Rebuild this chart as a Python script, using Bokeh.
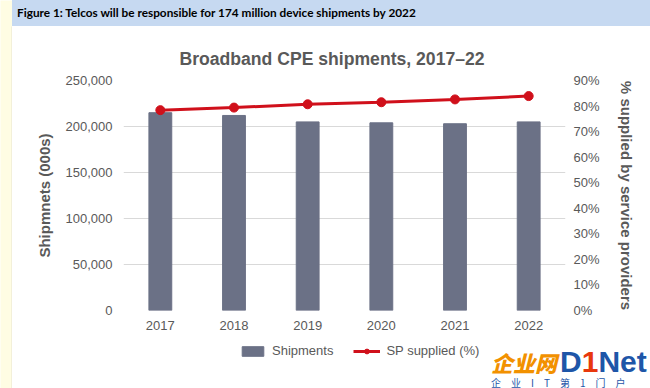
from bokeh.plotting import figure
from bokeh.models import (ColumnDataSource, LinearAxis, Range1d, FactorRange, Legend,
                          LegendItem, NumeralTickFormatter, SingleIntervalTicker, Div)
from bokeh.layouts import column, row
from bokeh.embed import file_html
from bokeh.resources import INLINE

years = ["2017", "2018", "2019", "2020", "2021", "2022"]
shipments = [215000, 212000, 205000, 204000, 203000, 205000]
sp_supplied = [0.784, 0.794, 0.807, 0.815, 0.826, 0.839]

fig_title = "Figure 1: Telcos will be responsible for 174 million device shipments by 2022"
chart_title = "Broadband CPE shipments, 2017\u201322"
left_label = "Shipmnets (000s)"
right_label = "% supplied by service providers"
legend_labels = ["Shipments", "SP supplied (%)"]

GRAY_TXT = "#595959"
FONT = "Liberation Sans"
BAR = "#6B7186"
RED = "#D0101B"

def bare(fig):
    fig.axis.visible = False
    fig.grid.visible = False
    fig.outline_line_color = None
    return fig

# ---- yellow side strip
strip = bare(figure(width=12, height=388, x_range=(0, 12), y_range=(0, 388),
                    output_backend="svg", toolbar_location=None, min_border=0,
                    background_fill_color="#FFFDE3", border_fill_color="#FFFDE3"))
strip.segment(x0=[11.5], y0=[0], x1=[11.5], y1=[362], line_color="#E6E3CF", line_width=1)

# ---- header band
band = Div(text=fig_title, width=638, height=26, margin=0,
           styles={"background-color": "#C6D9F1", "font-family": "Lato", "font-weight": "bold",
                   "font-size": "11.8px", "line-height": "26px", "padding-left": "5px",
                   "box-sizing": "border-box", "color": "black", "white-space": "nowrap"})

# ---- main chart
src = ColumnDataSource(dict(year=years, ship=shipments, sp=sp_supplied))

p = figure(frame_width=442, frame_height=230, x_range=FactorRange(*years, range_padding=0),
           y_range=Range1d(0, 250000), output_backend="svg", toolbar_location=None,
           min_border_left=111, min_border_right=73, min_border_top=54, min_border_bottom=28)
p.outline_line_color = None
p.background_fill_color = "white"
p.border_fill_color = "white"

p.extra_y_ranges = {"pct": Range1d(0, 0.9)}

bars = p.vbar(x="year", top="ship", width=0.31, source=src, color=BAR)
line = p.line(x="year", y="sp", source=src, y_range_name="pct", color=RED, line_width=3)
pts = p.scatter(x="year", y="sp", source=src, y_range_name="pct", color=RED, size=9)

p.yaxis.ticker = SingleIntervalTicker(interval=50000)
p.yaxis.formatter = NumeralTickFormatter(format="0,0")
p.yaxis.axis_label = left_label

ax_r = LinearAxis(y_range_name="pct", ticker=SingleIntervalTicker(interval=0.1),
                  formatter=NumeralTickFormatter(format="0%"), axis_label=right_label)
p.add_layout(ax_r, "right")

for ax in [p.yaxis[0], ax_r, p.xaxis[0]]:
    ax.axis_line_color = None
    ax.major_tick_line_color = None
    ax.minor_tick_line_color = None
    ax.major_tick_out = 0
    ax.major_tick_in = 0
    ax.major_label_text_font = FONT
    ax.major_label_text_font_size = "13px"
    ax.major_label_text_color = GRAY_TXT
    ax.axis_label_text_font = FONT
    ax.axis_label_text_font_size = "15px"
    ax.axis_label_text_font_style = "bold"
    ax.axis_label_text_color = GRAY_TXT
p.yaxis[0].major_label_standoff = 7
ax_r.major_label_standoff = 4
p.yaxis[0].axis_label_standoff = 10
ax_r.axis_label_standoff = 15
p.xaxis.major_label_standoff = 10

p.xgrid.grid_line_color = None
p.ygrid.grid_line_color = "#D9D9D9"

p.title.text = chart_title
p.title.align = "left"
p.title.offset = 56
p.title.text_font = FONT
p.title.text_font_size = "17.6px"
p.title.text_font_style = "bold"
p.title.text_color = GRAY_TXT
p.title.standoff = 24

# ---- legend row (proxy renderers, hidden; legend shows their styles)
lf = bare(figure(width=478, height=50, x_range=(0, 1), y_range=(0, 1), output_backend="svg",
                 toolbar_location=None, min_border=0, border_fill_color="white"))
lb = lf.vbar(x=[0], top=[0], width=0.3, color=BAR, visible=False)
ll = lf.line(x=[0, 0], y=[0, 0], color=RED, line_width=3, visible=False)
ls = lf.scatter(x=[0], y=[0], color=RED, size=9, visible=False)
legend = Legend(items=[LegendItem(label=legend_labels[0], renderers=[lb]),
                       LegendItem(label=legend_labels[1], renderers=[ll, ls])],
                orientation="horizontal", location=(227, 30))
legend.label_text_font = FONT
legend.label_text_font_size = "13px"
legend.label_text_color = GRAY_TXT
legend.border_line_color = None
legend.background_fill_alpha = 0
legend.inactive_fill_alpha = 0
legend.glyph_width = 27
legend.glyph_height = 12
legend.label_standoff = 6
legend.spacing = 20
legend.padding = 2
legend.margin = 0
lf.add_layout(legend)

wm_html = ('<div style="padding-top:9px;padding-left:1px;line-height:1;white-space:nowrap">'
           '<span style="font-family:\'Noto Sans CJK SC\';font-weight:900;font-style:italic;'
           'font-size:22px;color:#F29100;">企业网</span>'
           '<span style="font-family:\'Liberation Sans\';font-weight:bold;font-size:30px;'
           'color:#1E56A8;margin-left:3px;">D<span style="color:#E8380D">1</span>Net</span>'
           '<div style="font-family:\'Noto Sans CJK SC\';font-size:10px;color:#1E56A8;'
           'letter-spacing:10px;margin-top:1px;">企业IT第1门户</div></div>')
wm = Div(text=wm_html, width=160, height=50, margin=0)

layout = row(strip, column(band, p, row(lf, wm, spacing=0), spacing=0), spacing=0)
open("out.html", "w").write(file_html(layout, INLINE))
